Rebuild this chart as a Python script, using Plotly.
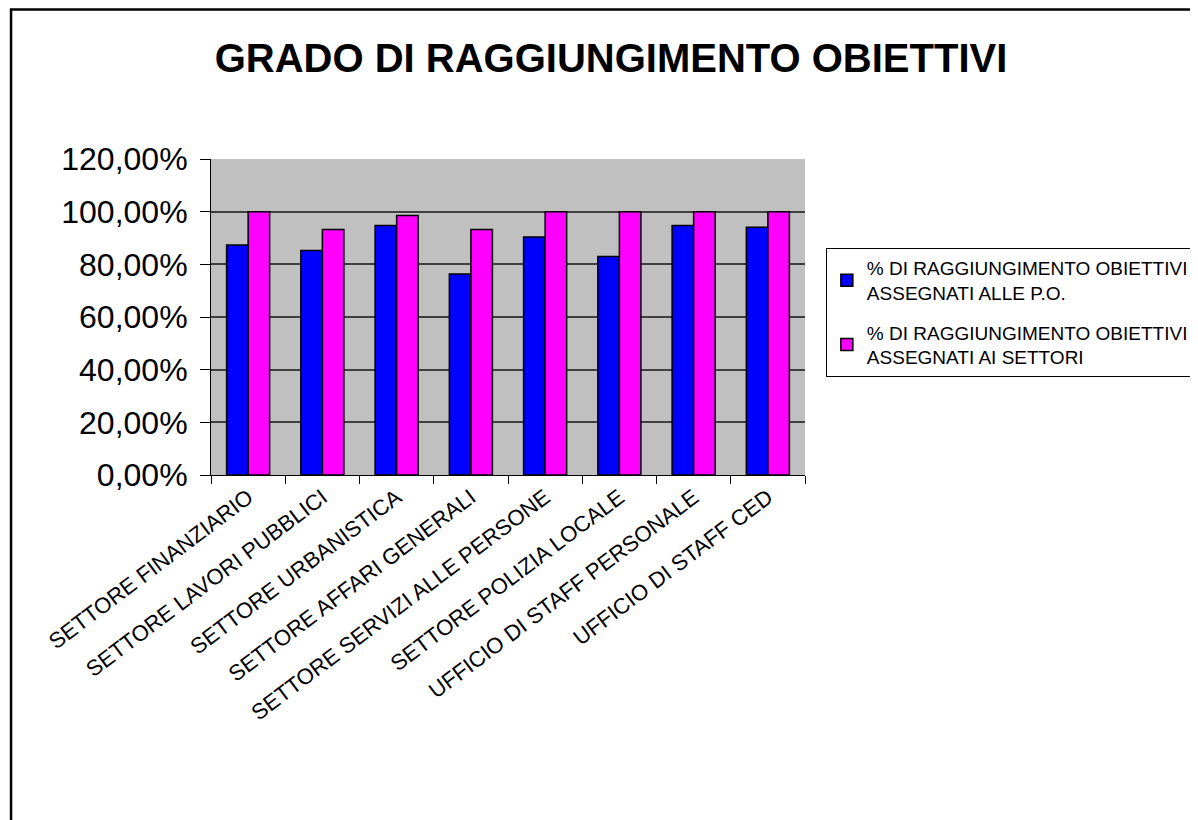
import plotly.graph_objects as go

categorie = [
    "SETTORE FINANZIARIO",
    "SETTORE LAVORI PUBBLICI",
    "SETTORE URBANISTICA",
    "SETTORE AFFARI GENERALI",
    "SETTORE SERVIZI ALLE PERSONE",
    "SETTORE POLIZIA LOCALE",
    "UFFICIO DI STAFF PERSONALE",
    "UFFICIO DI STAFF CED",
]
obiettivi_po = [0.873, 0.853, 0.947, 0.763, 0.904, 0.83, 0.947, 0.941]
obiettivi_settori = [1.0, 0.932, 0.985, 0.932, 1.0, 1.0, 1.0, 1.0]

nome_po = "% DI RAGGIUNGIMENTO OBIETTIVI<br>ASSEGNATI ALLE P.O."
nome_settori = "% DI RAGGIUNGIMENTO OBIETTIVI<br>ASSEGNATI AI SETTORI"
tick_y = [0, 0.2, 0.4, 0.6, 0.8, 1.0, 1.2]
tick_y_testo = ["0,00%", "20,00%", "40,00%", "60,00%", "80,00%", "100,00%", "120,00%"]

# the page body adds 8px, so everything is shifted back by 8
off = 8
L, R, T, B = 211 - off, 1198 - (809 - off), 159 - off, 820 - (475 - off)
pw, ph = 1198 - L - R, 820 - T - B
bottom = 475 - off

fig = go.Figure()
fig.add_trace(go.Bar(x=categorie, y=obiettivi_po, name=nome_po, legendgroup="po",
                     marker=dict(color="#0000FF", line=dict(color="black", width=1.5))))
fig.add_trace(go.Bar(x=categorie, y=obiettivi_settori, name=nome_settori, legendgroup="settori",
                     marker=dict(color="#FF00FF", line=dict(color="black", width=1.5))))

fig.update_layout(
    width=1198, height=820,
    margin=dict(l=L, r=R, t=T, b=B),
    paper_bgcolor="white",
    plot_bgcolor="#C0C0C0",
    font=dict(family="Arial, Liberation Sans", color="black"),
    barmode="group",
    bargap=0.42,
    bargroupgap=0,
    title=dict(text="<b>GRADO DI RAGGIUNGIMENTO OBIETTIVI</b>",
               font=dict(size=40, family="Arial, Liberation Sans", color="black"),
               x=(611 - off) / 1198, xanchor="center", y=1 - (58 - off) / 820, yanchor="middle"),
    legend=dict(x=(830 - off - L) / pw, y=(bottom - (248 - off)) / ph, xanchor="left", yanchor="top",
                bordercolor="black", borderwidth=1, bgcolor="white",
                font=dict(size=19, family="Arial, Liberation Sans"),
                tracegroupgap=12, itemwidth=30),
    showlegend=True,
)
fig.update_xaxes(
    type="category", tickson="boundaries", ticks="outside", ticklen=8,
    tickcolor="black", tickangle=-37, tickfont=dict(size=22),
    showline=True, linecolor="black", linewidth=1, showgrid=False,
)
fig.update_yaxes(
    range=[0, 1.2], tickvals=tick_y, ticktext=tick_y_testo,
    ticks="outside", ticklen=10, tickcolor="black", tickfont=dict(size=32),
    ticklabelstandoff=6,
    showline=True, linecolor="black", linewidth=1,
    showgrid=True, gridcolor="#404040", gridwidth=1.5, zeroline=False,
)
# outer chart border (runs past the right and bottom edges like in the original)
fig.add_shape(type="rect", xref="paper", yref="paper",
              x0=(9.7 - off - L) / pw, x1=(1230 - L) / pw,
              y0=(bottom - 850) / ph, y1=(bottom - 1.4) / ph,
              line=dict(color="black", width=2.5), layer="above")

fig.write_html("out.html")
